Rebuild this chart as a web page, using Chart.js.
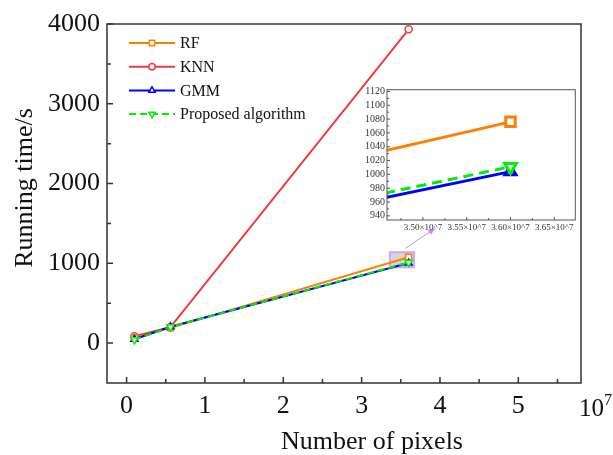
<!DOCTYPE html>
<html>
<head>
<meta charset="utf-8">
<script src="https://cdn.jsdelivr.net/npm/chart.js@4/dist/chart.umd.min.js"></script>
<style>
  html, body { margin: 0; padding: 0; background: #fff; }
  #wrap { position: relative; width: 613px; height: 455px; }
  #main { position: absolute; left: 0; top: 0; }
  #inset { position: absolute; left: 340px; top: 80px; }
</style>
</head>
<body>
<div id="wrap">
  <canvas id="main" width="613" height="455"></canvas>
  <canvas id="inset" width="245" height="160"></canvas>
</div>
<script>
const pixelCounts = [1.0e6, 5.6e6, 3.6e7];
const rfTime = [65, 191, 1076];
const knnTime = [85, 200, 3934];
const gmmTime = [48, 205, 1004];
const proposedTime = [42, 203, 1011];

const seriesNames = ["RF", "KNN", "GMM", "Proposed algorithm"];

const xTickValues = [0, 1e7, 2e7, 3e7, 4e7, 5e7];
const xMinorValues = [0.5e7, 1.5e7, 2.5e7, 3.5e7, 4.5e7, 5.5e7];
const yTickValues = [0, 1000, 2000, 3000, 4000];
const yMinorValues = [500, 1500, 2500, 3500];

const insetXTickValues = [3.50e7, 3.55e7, 3.60e7, 3.65e7];
const insetXMinorValues = [3.475e7, 3.525e7, 3.575e7, 3.625e7];
const insetYTickValues = [940, 960, 980, 1000, 1020, 1040, 1060, 1080, 1100, 1120];
const insetYMinorValues = [950, 970, 990, 1010, 1030, 1050, 1070, 1090, 1110];

const SERIF = "'Liberation Serif', 'Times New Roman', serif";

function pts(vals) {
  return pixelCounts.map((x, i) => ({ x: x, y: vals[i] }));
}

function makeDatasets(big) {
  const lw = big ? 3 : 2;
  const k = big ? 1.6 : 1;
  return [
    { label: seriesNames[0], data: pts(rfTime), borderColor: "#ff8000", pointStyle: "rect",
      pointRadius: 4.2 * k, order: 2 },
    { label: seriesNames[1], data: pts(knnTime), borderColor: "#f03c3c", pointStyle: "circle",
      pointRadius: 3.5 * k, order: 3 },
    { label: seriesNames[2], data: pts(gmmTime), borderColor: "#0000ff", pointStyle: "triangle",
      pointRadius: 4 * k, order: 1 },
    { label: seriesNames[3], data: pts(proposedTime), borderColor: "#00ee00", pointStyle: "triangle",
      pointRotation: 180, pointRadius: 4.2 * k, borderDash: big ? [10, 6] : [7, 4], order: 0 }
  ].map(d => Object.assign(d, {
    borderWidth: lw,
    pointBorderColor: d.borderColor,
    pointBackgroundColor: "#ffffff",
    pointBorderWidth: big ? 3 : 1.5,
    fill: false,
    tension: 0
  }));
}

// box around plot + inward tick marks
const frameTicks = {
  id: "frameTicks",
  afterDraw(chart, args, opts) {
    const { ctx, chartArea: a, scales } = chart;
    const xs = scales.x, ys = scales.y;
    ctx.save();
    ctx.strokeStyle = opts.color;
    ctx.lineWidth = opts.width;
    ctx.strokeRect(a.left, a.top, a.right - a.left, a.bottom - a.top);
    ctx.beginPath();
    opts.xMajor.forEach(v => { const p = xs.getPixelForValue(v); ctx.moveTo(p, a.bottom); ctx.lineTo(p, a.bottom - opts.major); });
    opts.xMinor.forEach(v => { const p = xs.getPixelForValue(v); ctx.moveTo(p, a.bottom); ctx.lineTo(p, a.bottom - opts.minor); });
    opts.yMajor.forEach(v => { const p = ys.getPixelForValue(v); ctx.moveTo(a.left, p); ctx.lineTo(a.left + opts.major, p); });
    opts.yMinor.forEach(v => { const p = ys.getPixelForValue(v); ctx.moveTo(a.left, p); ctx.lineTo(a.left + opts.minor, p); });
    ctx.stroke();
    ctx.restore();
  }
};

const legendBox = {
  id: "legendBox",
  afterDraw(chart) {
    const { ctx, chartArea: a } = chart;
    ctx.save();
    chart.data.datasets.forEach((d, i) => {
      const y = a.top + 19 + i * 23.7;
      const x0 = a.left + 22;
      ctx.strokeStyle = d.borderColor;
      ctx.lineWidth = 2;
      ctx.setLineDash(d.borderDash || []);
      ctx.beginPath();
      ctx.moveTo(x0, y);
      ctx.lineTo(x0 + 46, y);
      ctx.stroke();
      ctx.setLineDash([]);
      ctx.fillStyle = "#fff";
      ctx.lineWidth = 1.5;
      Chart.helpers.drawPoint(ctx, { pointStyle: d.pointStyle, radius: d.pointRadius * 0.9,
        rotation: d.pointRotation || 0, borderWidth: 1.5 }, x0 + 23, y);
      ctx.fillStyle = "#111";
      ctx.font = "16px " + SERIF;
      ctx.textBaseline = "middle";
      ctx.textAlign = "left";
      ctx.fillText(d.label, x0 + 51, y + 1);
    });
    ctx.restore();
  }
};

const zoomMark = {
  id: "zoomMark",
  beforeDatasetsDraw(chart) {
    const { ctx, scales } = chart;
    const l = scales.x.getPixelForValue(3.36e7), r = scales.x.getPixelForValue(3.67e7);
    const t = scales.y.getPixelForValue(1140), b = scales.y.getPixelForValue(950);
    ctx.save();
    ctx.fillStyle = "rgba(200,200,200,0.75)";
    ctx.fillRect(l, t, r - l, b - t);
    ctx.strokeStyle = "rgba(200,150,255,0.8)";
    ctx.lineWidth = 2;
    ctx.strokeRect(l, t, r - l, b - t);
    ctx.restore();
  },
  afterDraw(chart) {
    const { ctx, scales } = chart;
    const sx = scales.x.getPixelForValue(3.56e7), sy = scales.y.getPixelForValue(1190);
    const ex = sx + 30, ey = sy - 20;
    ctx.save();
    ctx.strokeStyle = "#cc88ff";
    ctx.fillStyle = "#cc88ff";
    ctx.lineWidth = 1;
    ctx.beginPath();
    ctx.moveTo(sx, sy);
    ctx.lineTo(ex, ey);
    ctx.stroke();
    const ang = Math.atan2(ey - sy, ex - sx);
    ctx.beginPath();
    ctx.moveTo(ex, ey);
    ctx.lineTo(ex - 8 * Math.cos(ang - 0.35), ey - 8 * Math.sin(ang - 0.35));
    ctx.lineTo(ex - 8 * Math.cos(ang + 0.35), ey - 8 * Math.sin(ang + 0.35));
    ctx.closePath();
    ctx.fill();
    ctx.restore();
  }
};

const axisTitles = {
  id: "axisTitles",
  afterDraw(chart) {
    const { ctx, chartArea: a } = chart;
    ctx.save();
    ctx.fillStyle = "#111";
    ctx.font = "26px " + SERIF;
    ctx.textAlign = "center";
    ctx.textBaseline = "alphabetic";
    ctx.fillText("Number of pixels", 372, 449);
    ctx.save();
    ctx.translate(32, 188);
    ctx.rotate(-Math.PI / 2);
    ctx.fillText("Running time/s", 0, 0);
    ctx.restore();
    // x axis multiplier
    ctx.textAlign = "left";
    ctx.font = "25px " + SERIF;
    ctx.fillText("10", a.right - 2, 416);
    ctx.font = "16px " + SERIF;
    ctx.fillText("7", a.right + 23, 405);
    ctx.restore();
  }
};

const insetBg = {
  id: "insetBg",
  beforeDraw(chart) {
    const { ctx, chartArea: a } = chart;
    ctx.save();
    ctx.fillStyle = "#fff";
    ctx.fillRect(a.left, a.top, a.right - a.left, a.bottom - a.top);
    ctx.restore();
  }
};

new Chart(document.getElementById("main"), {
  type: "line",
  data: { datasets: makeDatasets(false) },
  options: {
    responsive: false,
    animation: false,
    layout: { padding: { left: 0, right: 32, top: 24, bottom: 0 } },
    plugins: {
      legend: { display: false },
      tooltip: { enabled: false },
      frameTicks: { color: "#333", width: 1.5, major: 6, minor: 4,
        xMajor: xTickValues, xMinor: xMinorValues, yMajor: yTickValues, yMinor: yMinorValues }
    },
    scales: {
      x: {
        type: "linear", min: -0.25e7, max: 5.8e7,
        afterBuildTicks: s => { s.ticks = xTickValues.map(v => ({ value: v })); },
        afterFit: s => { s.height = 72; },
        grid: { display: false, drawTicks: false },
        border: { display: false },
        ticks: { padding: 8, autoSkip: false, color: "#111", font: { family: SERIF, size: 26 },
          callback: v => String(v / 1e7) }
      },
      y: {
        type: "linear", min: -500, max: 4000,
        afterBuildTicks: s => { s.ticks = yTickValues.map(v => ({ value: v })); },
        afterFit: s => { s.width = 107; },
        grid: { display: false, drawTicks: false },
        border: { display: false },
        ticks: { padding: 7, autoSkip: false, color: "#111", font: { family: SERIF, size: 26 },
          callback: v => String(v) }
      }
    }
  },
  plugins: [zoomMark, frameTicks, legendBox, axisTitles]
});

new Chart(document.getElementById("inset"), {
  type: "line",
  data: { datasets: makeDatasets(true) },
  options: {
    responsive: false,
    animation: false,
    layout: { padding: { left: 0, right: 8, top: 8, bottom: 0 } },
    plugins: {
      legend: { display: false },
      tooltip: { enabled: false },
      frameTicks: { color: "#555", width: 1, major: 3, minor: 2,
        xMajor: insetXTickValues, xMinor: insetXMinorValues, yMajor: insetYTickValues, yMinor: insetYMinorValues }
    },
    scales: {
      x: {
        type: "linear", min: 3.459e7, max: 3.674e7,
        afterBuildTicks: s => { s.ticks = insetXTickValues.map(v => ({ value: v })); },
        afterFit: s => { s.height = 20; },
        grid: { display: false, drawTicks: false },
        border: { display: false },
        ticks: { padding: 2, autoSkip: false, color: "#333", maxRotation: 0, font: { family: SERIF, size: 9 },
          callback: v => (v / 1e7).toFixed(2) + "\u00d710^7" }
      },
      y: {
        type: "linear", min: 934, max: 1122.5,
        afterBuildTicks: s => { s.ticks = insetYTickValues.map(v => ({ value: v })); },
        afterFit: s => { s.width = 47; },
        grid: { display: false, drawTicks: false },
        border: { display: false },
        ticks: { padding: 2, autoSkip: false, color: "#333", font: { family: SERIF, size: 10 },
          callback: v => String(v) }
      }
    }
  },
  plugins: [insetBg, frameTicks]
});
</script>
</body>
</html>
